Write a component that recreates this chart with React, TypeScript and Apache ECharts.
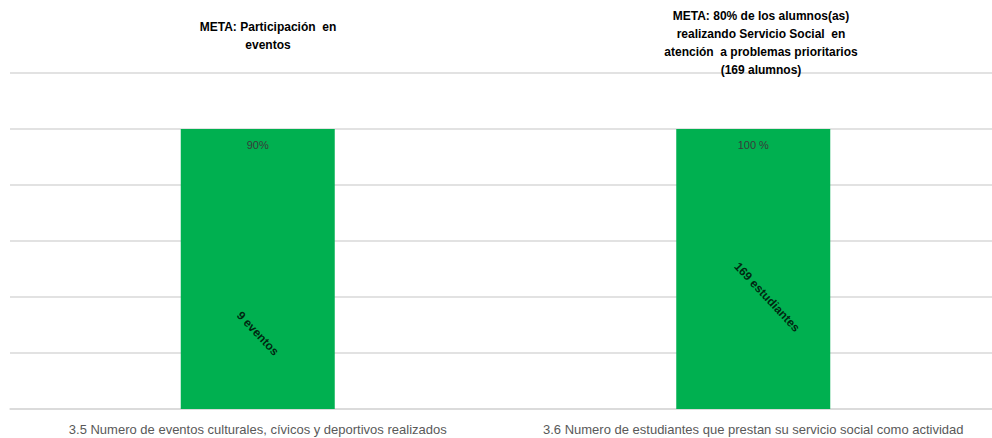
import React, { useEffect, useRef } from "react";
import * as echarts from "echarts";

const categories = [
  "3.5 Numero de eventos culturales, cívicos y deportivos realizados",
  "3.6 Numero de estudiantes que prestan su servicio social como actividad",
];
const barValues = [100, 100];
const topLabels = ["90%", "100 %"];
const innerLabels = ["9 eventos", "169 estudiantes"];
const innerLabelLevels = [27, 43.7];
const metaTitles = [
  "META: Participación  en\neventos",
  "META: 80% de los alumnos(as)\nrealizando Servicio Social  en\natención  a problemas prioritarios\n(169 alumnos)",
];

export default function App() {
  const ref = useRef<HTMLDivElement>(null);
  useEffect(() => {
    if (!ref.current) return;
    const chart = echarts.init(ref.current, undefined, { renderer: "svg" });
    const font = "'Liberation Sans', Arial, sans-serif";
    const innerOffsets = [
      [0, 0],
      [17, -3],
    ];
    chart.setOption({
      animation: false,
      backgroundColor: "#ffffff",
      title: [
        {
          text: metaTitles[0],
          left: 263,
          top: 13,
          textAlign: "center",
          textStyle: { fontSize: 12, fontWeight: "bold", color: "#000", fontFamily: font, lineHeight: 18, align: "center" },
        },
        {
          text: metaTitles[1],
          left: 756,
          top: 2,
          textAlign: "center",
          textStyle: { fontSize: 12, fontWeight: "bold", color: "#000", fontFamily: font, lineHeight: 18, align: "center" },
        },
      ],
      grid: { left: 10, right: 0, top: 73, bottom: 29, containLabel: false },
      xAxis: {
        type: "category",
        data: categories,
        axisLine: { show: true, lineStyle: { color: "#d9d9d9", width: 1.5 } },
        axisTick: { show: false },
        axisLabel: { color: "#595959", fontSize: 13, fontFamily: font, margin: 14, interval: 0 },
      },
      yAxis: {
        type: "value",
        min: 0,
        max: 120,
        interval: 20,
        axisLabel: { show: false },
        axisLine: { show: false },
        axisTick: { show: false },
        splitLine: { show: true, lineStyle: { color: "#d9d9d9", width: 1.5 } },
      },
      series: [
        {
          type: "bar",
          data: barValues,
          barWidth: 154,
          itemStyle: { color: "#00b050" },
          label: {
            show: true,
            position: "insideTop",
            distance: 10,
            formatter: (p: any) => topLabels[p.dataIndex],
            color: "#3a3a3a",
            fontSize: 11,
            fontFamily: font,
          },
          z: 2,
        },
        {
          type: "scatter",
          data: innerLabelLevels.map((v, i) => ({
            value: [i, v],
            label: { offset: innerOffsets[i] },
          })),
          symbolSize: 0,
          label: {
            show: true,
            position: "inside",
            rotate: -47,
            formatter: (p: any) => innerLabels[p.dataIndex],
            color: "#000",
            fontSize: 12,
            fontWeight: "bold",
            fontFamily: font,
          },
          z: 3,
        },
      ],
    });
    return () => chart.dispose();
  }, []);
  return (
    <div style={{ position: "absolute", left: 0, top: 0, width: 992, height: 438, overflow: "hidden", background: "#fff" }}>
      <div ref={ref} style={{ width: 1001, height: 438 }} />
    </div>
  );
}
